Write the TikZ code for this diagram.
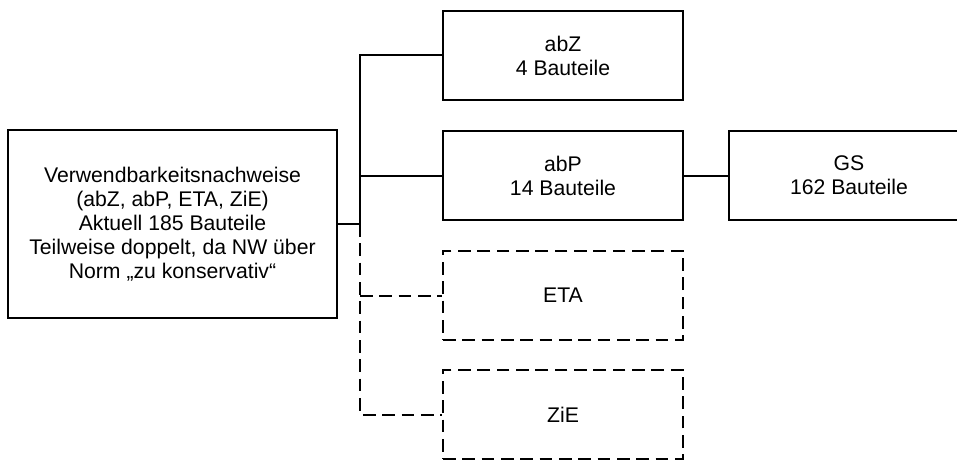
\documentclass[tikz,border=0pt]{standalone}
\usepackage{fontspec}
\setmainfont{Liberation Sans}
\begin{document}
\begin{tikzpicture}[x=0.75pt,y=-0.75pt,
  box/.style={draw, line width=1.5pt, align=center, font=\fontsize{15.9}{18}\selectfont, inner sep=0pt, minimum width=180pt, minimum height=66.75pt},
  dbox/.style={box, dash pattern=on 9.5pt off 5pt},
  conn/.style={line width=1.5pt},
  dconn/.style={conn, dash pattern=on 9.5pt off 5pt}]
\clip (0,0) rectangle (957,460);
\node[box, minimum width=246.75pt, minimum height=141pt] (L) at (172.5,224) {Verwendbarkeitsnachweise\\(abZ, abP, ETA, ZiE)\\Aktuell 185 Bauteile\\Teilweise doppelt, da NW über\\Norm „zu konservativ“};
\node[box] (abZ) at (563,55.5) {abZ\\4 Bauteile};
\node[box] (abP) at (563,175.5) {abP\\14 Bauteile};
\node[box] (GS) at (849,175.5) {GS\\162 Bauteile};
\node[dbox] (ETA) at (563,295.5) {ETA};
\node[dbox] (ZiE) at (563,414.5) {ZiE};
\coordinate (j) at (360,224);
\draw[conn] (L.east) -- (j);
\draw[conn] (j) |- (abZ.west);
\draw[conn] (j |- abP.west) -- (abP.west);
\draw[conn] (abP.east) -- (GS.west);
\draw[dconn] (j) |- (ZiE.west);
\draw[dconn] (j |- ETA.west) -- (ETA.west);
\end{tikzpicture}
\end{document}
